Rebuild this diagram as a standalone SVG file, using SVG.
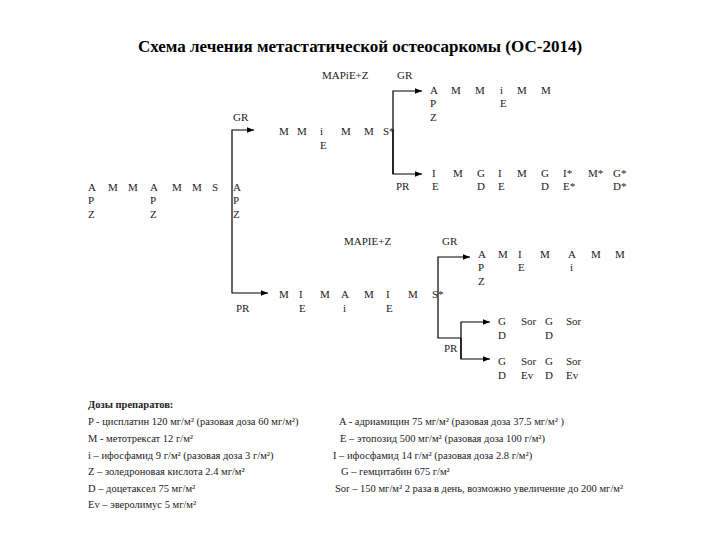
<svg xmlns="http://www.w3.org/2000/svg" width="720" height="540" viewBox="0 0 720 540">
<style>
text{font-family:"Liberation Serif","DejaVu Serif","Times New Roman",serif;font-size:11px;fill:#222}
.t{font-size:17px;font-weight:bold;fill:#000}
.l{font-size:10.5px}
.b{font-weight:bold}
line,polyline{stroke:#000;stroke-width:1.2;fill:none}
</style>
<defs><marker id="a" viewBox="0 0 10 10" refX="10" refY="5" markerWidth="6" markerHeight="6" orient="auto"><path d="M0,1L10,5L0,9z" fill="#000"/></marker></defs>
<rect width="720" height="540" fill="#fff"/>
<text class="t" x="360" y="52" text-anchor="middle">Схема лечения метастатической остеосаркомы (ОС-2014)</text>
<g id="connectors">
<polyline points="232,220 232,130 254,130" marker-end="url(#a)"/>
<polyline points="232,220 232,293 268,293" marker-end="url(#a)"/>
<polyline points="393,174 393,91 422,91" marker-end="url(#a)"/>
<polyline points="393,130 393,174 422,174" marker-end="url(#a)"/>
<polyline points="438,300 438,257 470,257" marker-end="url(#a)"/>
<polyline points="438,300 438,338 461,338"/>
<polyline points="461,359 461,322 490,322" marker-end="url(#a)"/>
<polyline points="461,338 461,359 490,359" marker-end="url(#a)"/>
</g>
<g id="start"><text x="88" y="191">A</text><text x="88" y="204">P</text><text x="88" y="218">Z</text><text x="108" y="191">M</text><text x="128" y="191">M</text><text x="150" y="191">A</text><text x="150" y="204">P</text><text x="150" y="218">Z</text><text x="172" y="191">M</text><text x="192" y="191">M</text><text x="212" y="191">S</text><text x="233" y="191">A</text><text x="233" y="204">P</text><text x="233" y="218">Z</text></g>
<g id="gr1"><text x="233" y="121">GR</text><text x="279" y="135">M</text><text x="297" y="135">M</text><text x="320" y="135">i</text><text x="320" y="149">E</text><text x="341" y="135">M</text><text x="364" y="135">M</text><text x="383" y="135">S*</text></g>
<g id="gr1gr"><text x="322" y="79">MAPiE+Z</text><text x="397" y="79">GR</text><text x="430" y="94">A</text><text x="430" y="107">P</text><text x="430" y="121">Z</text><text x="451" y="94">M</text><text x="475" y="94">M</text><text x="500" y="94">i</text><text x="500" y="107">E</text><text x="517" y="94">M</text><text x="541" y="94">M</text></g>
<g id="gr1pr"><text x="396" y="190">PR</text><text x="432" y="177">I</text><text x="432" y="190">E</text><text x="453" y="177">M</text><text x="477" y="177">G</text><text x="477" y="190">D</text><text x="498" y="177">I</text><text x="498" y="190">E</text><text x="517" y="177">M</text><text x="541" y="177">G</text><text x="541" y="190">D</text><text x="563" y="177">I*</text><text x="563" y="190">E*</text><text x="588" y="177">M*</text><text x="613" y="177">G*</text><text x="613" y="190">D*</text></g>
<g id="pr1"><text x="236" y="312">PR</text><text x="279" y="298">M</text><text x="299" y="298">I</text><text x="299" y="312">E</text><text x="320" y="298">M</text><text x="341" y="298">A</text><text x="343" y="312">i</text><text x="364" y="298">M</text><text x="386" y="298">I</text><text x="386" y="312">E</text><text x="408" y="298">M</text><text x="432" y="298">S*</text></g>
<g id="pr1gr"><text x="344" y="245">MAPIE+Z</text><text x="442" y="245">GR</text><text x="478" y="258">A</text><text x="478" y="271">P</text><text x="478" y="285">Z</text><text x="498" y="258">M</text><text x="518" y="258">I</text><text x="518" y="271">E</text><text x="540" y="258">M</text><text x="568" y="258">A</text><text x="570" y="271">i</text><text x="591" y="258">M</text><text x="615" y="258">M</text></g>
<g id="pr1pr"><text x="444" y="352">PR</text><text x="498" y="325">G</text><text x="498" y="339">D</text><text x="521" y="325">Sor</text><text x="545" y="325">G</text><text x="545" y="339">D</text><text x="566" y="325">Sor</text><text x="498" y="365">G</text><text x="498" y="379">D</text><text x="521" y="365">Sor</text><text x="521" y="379">Ev</text><text x="545" y="365">G</text><text x="545" y="379">D</text><text x="566" y="365">Sor</text><text x="566" y="379">Ev</text></g>
<g id="legend">
<text class="l b" x="88" y="408">Дозы препаратов:</text>
<text class="l" x="88" y="425">P - цисплатин 120 мг/м² (разовая доза 60 мг/м²)</text>
<text class="l" x="88" y="442">M - метотрексат 12 г/м²</text>
<text class="l" x="88" y="459">i – ифосфамид 9 г/м² (разовая доза 3 г/м²)</text>
<text class="l" x="88" y="475">Z – золедроновая кислота 2.4 мг/м²</text>
<text class="l" x="88" y="492">D – доцетаксел 75 мг/м²</text>
<text class="l" x="88" y="508">Ev – эверолимус 5 мг/м²</text>
<text class="l" x="339" y="425">A - адриамицин 75 мг/м² (разовая доза 37.5 мг/м² )</text>
<text class="l" x="340" y="442">E – этопозид 500 мг/м² (разовая доза 100 г/м²)</text>
<text class="l" x="333" y="459">I – ифосфамид 14 г/м² (разовая доза 2.8 г/м²)</text>
<text class="l" x="341" y="475">G – гемцитабин 675 г/м²</text>
<text class="l" x="335" y="492">Sor – 150 мг/м² 2 раза в день, возможно увеличение до 200 мг/м²</text>
</g>
</svg>
